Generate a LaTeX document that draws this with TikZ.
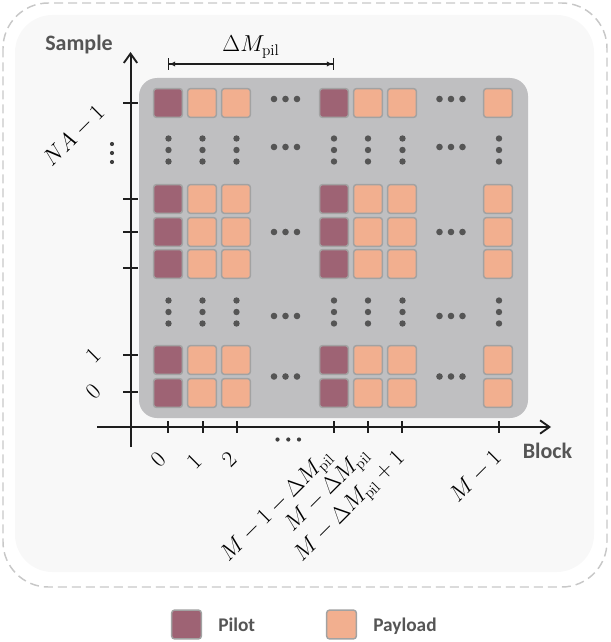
\documentclass[tikz,border=0pt]{standalone}
\usepackage{fontspec}
\newfontfamily\labfont{Carlito}
\usetikzlibrary{arrows.meta}
\definecolor{pilotc}{HTML}{9E6374}
\definecolor{payloadc}{HTML}{F2AF8F}
\definecolor{cellborder}{HTML}{A2A2A2}
\definecolor{panelc}{HTML}{BFBFC1}
\definecolor{bgfill}{HTML}{F8F8F8}
\definecolor{dashcol}{HTML}{C8C8C8}
\definecolor{dotcol}{HTML}{555555}
\definecolor{txtc}{HTML}{555555}
\definecolor{axisc}{HTML}{1E1E1E}
\begin{document}
\begin{tikzpicture}[x=0.75pt,y=-0.75pt,
  cell/.style={rectangle, draw=cellborder, line width=1.1pt, rounded corners=2pt,
    minimum width=21.5pt, minimum height=21.5pt, inner sep=0pt},
  axisline/.style={draw=axisc, line width=1.5pt, -{Straight Barb[length=7pt,width=10pt,line width=1.4pt]}},
  tickline/.style={draw=axisc, line width=1.1pt},
  bigdot/.style={fill=dotcol},
  smalldot/.style={fill=axisc!85},
  mathlab/.style={font=\fontsize{16}{19}\selectfont, inner sep=0pt, rotate=45},
  axislab/.style={font=\labfont\bfseries\fontsize{16.5}{20}\selectfont, text=txtc, inner sep=0pt},
  leglab/.style={font=\labfont\bfseries\fontsize{14.5}{18}\selectfont, text=txtc, inner sep=0pt, anchor=base west},
  dimline/.style={draw=axisc, line width=0.9pt, {Bar[width=9pt]Latex[length=4.5pt,width=4pt]}-{Latex[length=4.5pt,width=4pt]Bar[width=9pt]}}
]
\useasboundingbox (0,0) rectangle (610,642);
% frames
\draw[dashcol, line width=1.1pt, dash pattern=on 6.75pt off 3.75pt, rounded corners=34pt] (3,3) rectangle (607,587);
\fill[bgfill, rounded corners=28pt] (15,15) rectangle (594,572);
\fill[panelc, rounded corners=13.5pt] (139,78) rectangle (528,418);
% cells
\foreach \yy [count=\r] in {103,199,232,264,360,393} {
  \foreach \xx/\kk [count=\c] in {168/pilotc,202/payloadc,236/payloadc,334/pilotc,368/payloadc,402/payloadc,498/payloadc} {
    \node[cell, fill=\kk] (c\r-\c) at (\xx,\yy) {};
  }
}
% horizontal dots
\foreach \yy in {99,147,232,316,376.5} {
  \foreach \xx in {274,285.5,297,439.5,451,462.5} {
    \fill[bigdot] (\xx,\yy) circle (3.3);
  }
}
% vertical dots
\foreach \yy in {150,312} {
  \foreach \xx in {168.5,202.5,236.5,334,368,402.5,499} {
    \foreach \dd in {-11.5,0,11.5} {
      \fill[bigdot] (\xx,\yy+\dd) circle (3.2);
    }
  }
}
% axes
\coordinate (xs) at (97,427);
\coordinate (xe) at (551,427);
\coordinate (ys) at (130.5,447);
\coordinate (ye) at (130.5,52);
\draw[axisline] (xs) -- (xe);
\draw[axisline] (ys) -- (ye);
% y ticks
\foreach \yy in {103,199,232,268,355,392} {
  \draw[tickline] (123,\yy) -- (138,\yy);
}
% x ticks
\foreach \xx in {168,203,237,334,368,402,499} {
  \draw[tickline] (\xx,421) -- (\xx,433);
}
% small dots
\foreach \yy in {144,153,162} { \fill[smalldot] (112,\yy) circle (2.1); }
\foreach \xx in {277.5,288.3,299} { \fill[smalldot] (\xx,439.5) circle (2.1); }
% dimension
\coordinate (d1) at (168,64);
\coordinate (d2) at (334,64);
\draw[dimline] (d1) -- (d2);
\node[font=\fontsize{16.5}{19}\selectfont, inner sep=0pt] (dlab) at (251,47) {$\Delta M_{\mathrm{pil}}$};
% axis labels
\node[axislab] (sample) at (79,45) {Sample};
\node[axislab] (block) at (547.5,451) {Block};
% y labels
\node[mathlab] (yNA) at (74,136) {$NA-1$};
\node[mathlab] (y1) at (93,356) {$1$};
\node[mathlab] (y0) at (93,392) {$0$};
% x labels
\node[mathlab] (x0) at (158,460) {$0$};
\node[mathlab] (x1) at (194,462) {$1$};
\node[mathlab] (x2) at (229,460) {$2$};
\node[mathlab] (xa) at (277.5,507) {$M-1-\Delta M_{\mathrm{pil}}$};
\node[mathlab] (xb) at (328,491) {$M-\Delta M_{\mathrm{pil}}$};
\node[mathlab] (xc) at (350.5,507.5) {$M-\Delta M_{\mathrm{pil}}+1$};
\node[mathlab] (xd) at (475.5,476.5) {$M-1$};
% legend
\node[cell, fill=pilotc, minimum width=22.2pt, minimum height=21.5pt] (legp) at (186.5,624.5) {};
\node[leglab] (legpt) at (218,631.5) {Pilot};
\node[cell, fill=payloadc, minimum width=22.2pt, minimum height=21.5pt] (legq) at (341.5,624.5) {};
\node[leglab] (legqt) at (373,631.5) {Payload};
\end{tikzpicture}
\end{document}
